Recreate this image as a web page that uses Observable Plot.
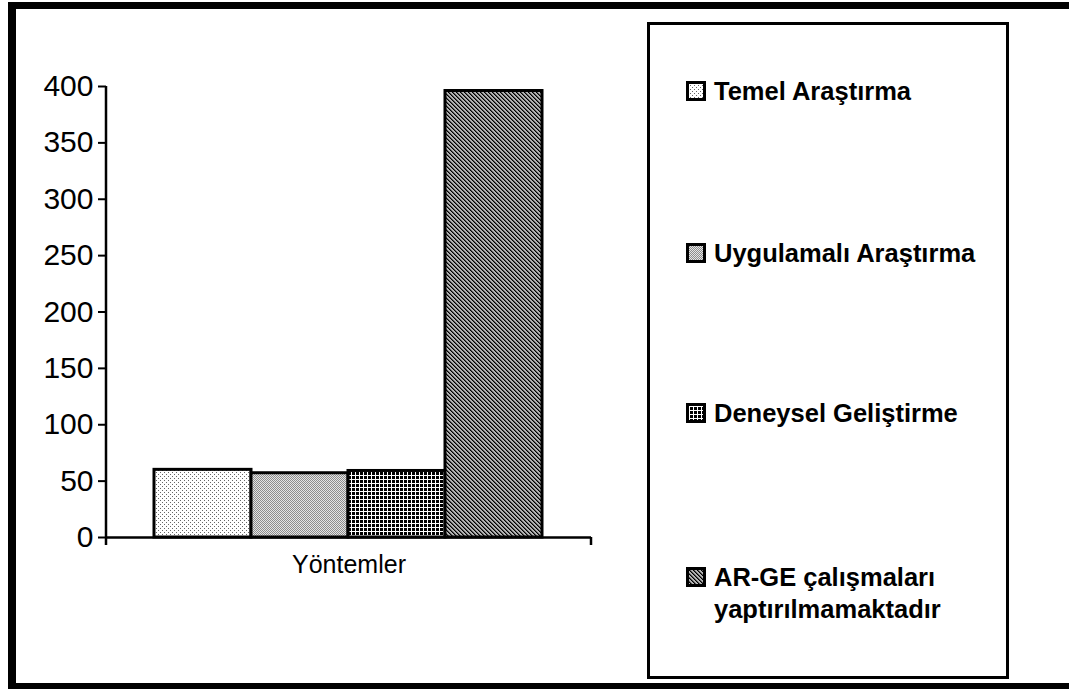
<!DOCTYPE html>
<html><head><meta charset="utf-8">
<script src="https://cdn.jsdelivr.net/npm/d3@7"></script>
<script src="https://cdn.jsdelivr.net/npm/@observablehq/plot@0.6"></script>
<style>
body{margin:0;background:#fff;font-family:Arial,"Liberation Sans",sans-serif;}
#wrap{position:relative;width:1069px;height:689px;overflow:hidden;background:#fff;}
.b{position:absolute;background:#000;}
#chart{position:absolute;left:0;top:0;}
#legend{position:absolute;left:647px;top:22px;width:356px;height:651px;border:3px solid #000;background:#fff;}
.item{position:absolute;left:36px;font-weight:bold;font-size:25.5px;line-height:32px;color:#000;}
.item svg{position:absolute;left:0;top:6px;}
.item .t{position:absolute;left:28px;top:0;white-space:nowrap;}
</style></head>
<body>
<svg width="0" height="0" style="position:absolute">
  <defs>
    <pattern id="p1" width="4" height="4" patternUnits="userSpaceOnUse">
      <rect width="4" height="4" fill="#fff"/>
      <rect x="0" y="0" width="1" height="1" fill="#666"/>
      <rect x="2" y="2" width="1" height="1" fill="#666"/>
    </pattern>
    <pattern id="p2" width="2" height="2" patternUnits="userSpaceOnUse">
      <rect width="2" height="2" fill="#e4e4e4"/>
      <rect x="0" y="0" width="1" height="1" fill="#8c8c8c"/>
      <rect x="1" y="1" width="1" height="1" fill="#8c8c8c"/>
    </pattern>
    <pattern id="p3" width="4" height="4" patternUnits="userSpaceOnUse">
      <rect width="4" height="4" fill="#000"/>
      <rect x="0" y="3" width="4" height="1" fill="#fff"/>
      <rect x="3" y="0" width="1" height="4" fill="#fff"/>
    </pattern>
    <pattern id="p4" width="4" height="4" patternUnits="userSpaceOnUse">
      <rect width="4" height="4" fill="#b4b4b4"/>
      <rect x="0" y="0" width="1" height="1" fill="#000"/>
      <rect x="1" y="1" width="1" height="1" fill="#000"/>
      <rect x="2" y="2" width="1" height="1" fill="#000"/>
      <rect x="3" y="3" width="1" height="1" fill="#000"/>
      <rect x="1" y="0" width="1" height="1" fill="#555"/>
      <rect x="2" y="1" width="1" height="1" fill="#555"/>
      <rect x="3" y="2" width="1" height="1" fill="#555"/>
      <rect x="0" y="3" width="1" height="1" fill="#555"/>
    </pattern>
  </defs>
</svg>
<div id="wrap">
  <div class="b" style="left:8px;top:2px;width:1061px;height:7px"></div>
  <div class="b" style="left:8px;top:2px;width:8px;height:687px"></div>
  <div class="b" style="left:8px;top:683px;width:1061px;height:6px"></div>
  <div id="chart"></div>
  <div id="legend"></div>
</div>
<script>
// ---- data ----
const categories = ["Yöntemler"];
const series = ["Temel Araştırma", "Uygulamalı Araştırma", "Deneysel Geliştirme", "AR-GE çalışmaları yaptırılmamaktadır"];
const values = [60, 57, 59, 396];
const yTicks = [0, 50, 100, 150, 200, 250, 300, 350, 400];
const legendLines = [["Temel Araştırma"], ["Uygulamalı Araştırma"], ["Deneysel Geliştirme"], ["AR-GE çalışmaları", "yaptırılmamaktadır"]];

// ---- styles ----
const patternFills = ["url(#p1)", "url(#p2)", "url(#p3)", "url(#p4)"];

const data = series.map((s, i) => ({category: categories[0], series: s, value: values[i]}));

const axisDecor = (index, scales, values, dims) => {
  const g = d3.create("svg:g").attr("stroke", "#000").attr("stroke-width", 2.5);
  const y0 = scales.y(0), yTop = scales.y(d3.max(yTicks));
  const xl = dims.marginLeft, xr = dims.width - dims.marginRight;
  g.append("line").attr("x1", xl).attr("x2", xl).attr("y1", yTop).attr("y2", y0 + 8);
  g.append("line").attr("x1", xr).attr("x2", xr).attr("y1", y0).attr("y2", y0 + 8);
  return g.node();
};

const chart = Plot.plot({
  width: 647, height: 600,
  marginLeft: 106, marginRight: 56, marginTop: 86, marginBottom: 63,
  x: {domain: series, padding: 0, insetLeft: 47, insetRight: 48, axis: null},
  y: {domain: [0, 400]},
  color: {type: "ordinal", domain: series, range: patternFills},
  style: {fontFamily: "Arial, 'Liberation Sans', sans-serif", background: "transparent", color: "#000", overflow: "visible"},
  marks: [
    Plot.barY(data, {x: "series", y: "value", fill: "series", stroke: "#000", strokeWidth: 3}),
    Plot.ruleY([0], {stroke: "#000", strokeWidth: 2.5}),
    Plot.axisY({ticks: yTicks, tickSize: 8, tickPadding: 5, fontSize: 30, strokeWidth: 2, label: null}),
    axisDecor,
    Plot.text(categories, {text: d => d, frameAnchor: "bottom", dy: 27, fontSize: 25, lineAnchor: "middle", fill: "#000"})
  ]
});
document.getElementById("chart").appendChild(chart);

// ---- legend ----
const legend = d3.select("#legend");
const itemTops = [50, 212, 372, 536];
series.forEach((s, i) => {
  const it = legend.append("div").attr("class", "item").style("top", itemTops[i] + "px");
  const sw = it.append("svg").attr("width", 20).attr("height", 20);
  sw.append("rect").attr("x", 1.5).attr("y", 1.5).attr("width", 17).attr("height", 17)
    .attr("fill", patternFills[i]).attr("stroke", "#000").attr("stroke-width", 3);
  it.append("div").attr("class", "t").html(legendLines[i].join("<br>"));
});
</script>
</body></html>
